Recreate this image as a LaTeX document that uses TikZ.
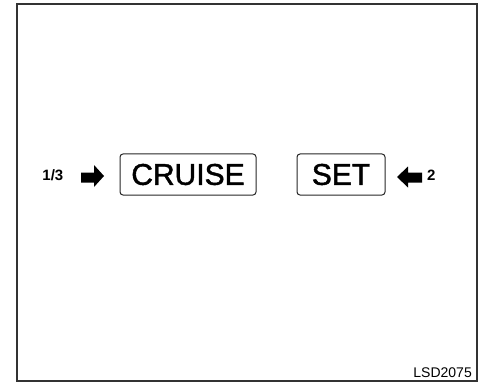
\documentclass[tikz,border=0pt]{standalone}
\usepackage{fontspec}
\setmainfont{Liberation Sans}
\newfontfamily\keyfont[FakeBold=1.5]{Liberation Sans}
\begin{document}
\begin{tikzpicture}[x=1pt,y=-1pt,
  keybox/.style={draw=black!85,line width=1pt,rounded corners=3pt,inner sep=0pt,minimum height=41pt,font=\keyfont\fontsize{30}{30}\selectfont},
  steplabel/.style={font=\fontsize{15}{15}\selectfont\bfseries,inner sep=0pt},
  blockarrow/.style={fill=black,draw=none}]
\useasboundingbox (0,0) rectangle (481,382);
\draw[line width=1.6pt,black!80] (17,381) -- (17,4) -- (477,4) -- (477,381) -- cycle;
\node[keybox,minimum width=136pt] (cruise) at (188,174.5) {CRUISE};
\node[keybox,minimum width=88pt] (set) at (341,174.5) {SET};
\node[steplabel,anchor=east] (l13) at (63.5,175.5) {1/3};
\fill[blockarrow] (81,172.5) -- (94,172.5) -- (94,165) -- (104,176) -- (94,187) -- (94,182.5) -- (81,182.5) -- cycle;
\fill[blockarrow] (422,172.5) -- (408,172.5) -- (408,166.5) -- (397,177) -- (408,187.5) -- (408,182.5) -- (422,182.5) -- cycle;
\node[steplabel,anchor=west] (l2) at (427,175.5) {2};
\node[font=\fontsize{14}{14}\selectfont,anchor=base east,inner sep=0pt] (code) at (472,377) {LSD2075};
\end{tikzpicture}
\end{document}
